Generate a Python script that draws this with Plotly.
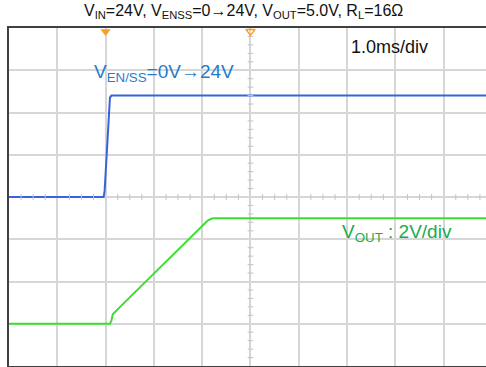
import numpy as np
import plotly.graph_objects as go

# Time base: 1.0 ms per horizontal division
T_MAX = 9.876          # visible span in ms (10th division falls just off the right edge)
N_VDIV = 8             # vertical divisions

# EN/SS channel, 10 V/div, ground at division 4
t_en = [0.0, 1.96, 1.98, 2.00, 2.03, 2.06, 2.09, 2.12, T_MAX]
v_en = [0.0, 0.0, 1.5, 6.0, 12.0, 19.0, 23.5, 24.0, 24.0]
EN_SCALE, EN_OFFSET = 10.0, 4.0

# VOUT channel, 2 V/div, ground at division 1
t_out = [0.0, 2.09, 2.12, 2.15, 2.30, 2.78, 3.27, 3.68, 4.05, 4.12, 4.20, 4.25, T_MAX]
v_out = [0.0, 0.0, 0.15, 0.45, 0.80, 1.88, 2.95, 3.88, 4.75, 4.90, 4.98, 5.0, 5.0]
OUT_SCALE, OUT_OFFSET = 2.0, 1.0

# trigger markers along the top edge
trig_t = [2.0]
pos_t = [5.0]

FONT = "Liberation Sans, Arial, sans-serif"

fig = go.Figure()

fig.add_trace(go.Scatter(
    x=t_en, y=[EN_OFFSET + v / EN_SCALE for v in v_en],
    mode="lines", line=dict(color="#3a62dc", width=2), hoverinfo="skip"))

fig.add_trace(go.Scatter(
    x=t_out, y=[OUT_OFFSET + v / OUT_SCALE for v in v_out],
    mode="lines", line=dict(color="#3ede2e", width=2), hoverinfo="skip"))

fig.add_trace(go.Scatter(
    x=trig_t, y=[N_VDIV - 0.08], mode="markers", cliponaxis=False,
    marker=dict(symbol="triangle-down", size=9, color="#f5a020"), hoverinfo="skip"))
fig.add_trace(go.Scatter(
    x=pos_t, y=[N_VDIV - 0.08], mode="markers", cliponaxis=False,
    marker=dict(symbol="triangle-down-open", size=8, color="#f5a020",
                line=dict(width=1.5)), hoverinfo="skip"))

# minor ticks along the centre graticule lines
shapes = []
tick_col = "#c4c4c4"
for t in np.arange(0.25, T_MAX, 0.25):
    if abs(t - round(t)) < 1e-6:
        continue
    shapes.append(dict(type="line", xref="x", yref="y", x0=t, x1=t,
                       y0=N_VDIV / 2 - 0.07, y1=N_VDIV / 2 + 0.07,
                       line=dict(color=tick_col, width=1)))
for d in np.arange(0.2, N_VDIV, 0.2):
    if abs(d - round(d)) < 1e-6:
        continue
    shapes.append(dict(type="line", xref="x", yref="y", x0=5 - 0.06, x1=5 + 0.06,
                       y0=d, y1=d, line=dict(color=tick_col, width=1)))

annotations = [
    dict(xref="paper", yref="paper", x=0.4906, y=1 + 16 / 338, xanchor="center", yanchor="middle",
         text="V<sub>IN</sub>=24V, V<sub>ENSS</sub>=0→24V, V<sub>OUT</sub>=5.0V, R<sub>L</sub>=16Ω",
         showarrow=False, font=dict(family=FONT, size=16, color="#111111")),
    dict(xref="x", yref="y", x=1.72, y=6.93, xanchor="left", yanchor="middle",
         text="V<sub>EN/SS</sub>=0V→24V", showarrow=False,
         font=dict(family=FONT, size=19, color="#1f7ccc")),
    dict(xref="x", yref="y", x=7.03, y=7.55, xanchor="left", yanchor="middle",
         text="1.0ms/div", showarrow=False,
         font=dict(family=FONT, size=18, color="#111111")),
    dict(xref="x", yref="y", x=6.86, y=3.15, xanchor="left", yanchor="middle",
         text="V<sub>OUT</sub> : 2V/div", showarrow=False,
         font=dict(family=FONT, size=19, color="#17ad4a")),
]

fig.update_layout(
    width=486, height=367,
    margin=dict(l=9, r=0, t=28, b=1),
    paper_bgcolor="white", plot_bgcolor="white",
    showlegend=False,
    shapes=shapes, annotations=annotations,
    xaxis=dict(range=[0, T_MAX], dtick=1, tick0=0, showticklabels=False, ticks="",
               showgrid=True, gridcolor="#d6d6d6", gridwidth=1.5, zeroline=False,
               showline=True, linecolor="#404040", linewidth=1.5, mirror=True),
    yaxis=dict(range=[0, N_VDIV], dtick=1, tick0=0, showticklabels=False, ticks="",
               showgrid=True, gridcolor="#d6d6d6", gridwidth=1.5, zeroline=False,
               showline=True, linecolor="#404040", linewidth=1.5, mirror=False),
)

fig.write_html("out.html")
